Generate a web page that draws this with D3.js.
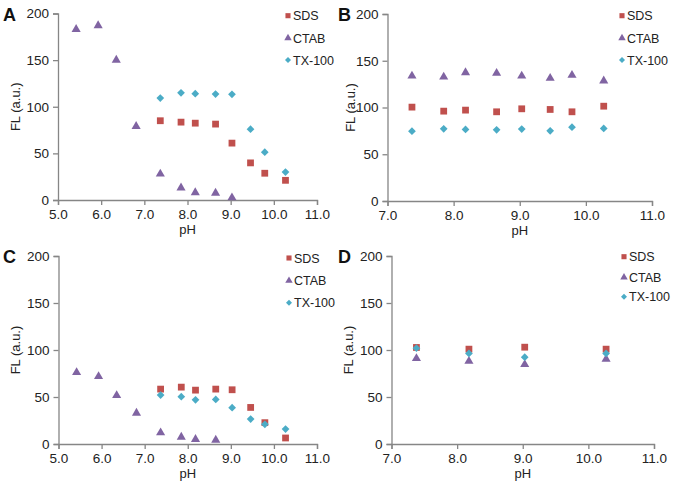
<!DOCTYPE html>
<html><head><meta charset="utf-8">
<script src="https://cdn.jsdelivr.net/npm/d3@7"></script>
<style>body{margin:0;background:#fff}svg{display:block}text{font-family:"Liberation Sans",Arial,sans-serif}</style>
</head><body>
<script>
// ---- data ----
const seriesNames = ["SDS", "CTAB", "TX-100"];
const yTicks = [0, 50, 100, 150, 200];
const xTicksWide = [5, 6, 7, 8, 9, 10, 11];
const xTicksNarrow = [7, 8, 9, 10, 11];

const pH_A_SDS = [7.37, 7.85, 8.18, 8.65, 9.03, 9.46, 9.79, 10.27];
const A_SDS = [85, 83.5, 82.4, 81.4, 61, 39.8, 28.7, 21.1];
const pH_A_CTAB = [5.42, 5.93, 6.35, 6.81, 7.37, 7.85, 8.18, 8.65, 9.03];
const A_CTAB = [183, 187, 150, 79, 28, 13, 8, 7.5, 2.5];
const pH_A_TX = [7.37, 7.85, 8.18, 8.65, 9.03, 9.46, 9.79, 10.27];
const A_TX = [109.3, 115, 114, 113.6, 113.3, 76, 51.3, 30];

const pH_B = [7.37, 7.85, 8.18, 8.65, 9.03, 9.46, 9.79, 10.27];
const B_SDS = [100.4, 96.1, 97.2, 95.4, 98.6, 97.9, 95.4, 101.4];
const B_CTAB = [133.8, 132.7, 137.4, 136.7, 133.8, 131.3, 134.5, 128.5];
const B_TX = [74.7, 77.2, 76.5, 76.2, 76.9, 75.1, 79, 77.6];

const pH_C_SDS = [7.37, 7.85, 8.18, 8.65, 9.03, 9.46, 9.79, 10.27];
const C_SDS = [58.4, 60.5, 57.3, 58.4, 57.7, 38.9, 22.7, 6.4];
const pH_C_CTAB = [5.42, 5.93, 6.35, 6.81, 7.37, 7.85, 8.18, 8.65];
const C_CTAB = [76.1, 71.9, 51.7, 32.9, 12, 7.4, 5, 4.2];
const pH_C_TX = [7.37, 7.85, 8.18, 8.65, 9.03, 9.46, 9.79, 10.27];
const C_TX = [52, 50.3, 47, 47.4, 38.6, 26.5, 20.9, 15.9];

const pH_D = [7.38, 8.18, 9.03, 10.27];
const D_SDS = [102.7, 100.9, 103, 100.9];
const D_CTAB = [91, 88.1, 84.6, 90.3];
const D_TX = [101.9, 96.3, 92.4, 96.3];

// ---- styles ----
const colors = {"SDS": "#C0504D", "CTAB": "#8064A2", "TX-100": "#4BACC6"};
const shapes = {"SDS": d3.symbolSquare, "CTAB": d3.symbolTriangle, "TX-100": d3.symbolSquare};
const rotations = {"SDS": 0, "CTAB": 0, "TX-100": 45};
const sizes = {"SDS": 46, "CTAB": 36, "TX-100": 30};
const legSizes = {"SDS": 26, "CTAB": 24, "TX-100": 18};
const axisColor = "#868686";

const panels = [
  {label: "A", l: 58, r: 317, t: 13.5, b: 200, xd: [5, 11], xt: xTicksWide, lx: 288, ly: [15.7, 38, 60], titleX: 15,
   s: [[pH_A_SDS, A_SDS], [pH_A_CTAB, A_CTAB], [pH_A_TX, A_TX]]},
  {label: "B", l: 387.5, r: 652, t: 14, b: 201, xd: [7, 11], xt: xTicksNarrow, lx: 622, ly: [15.7, 38, 60], titleX: 350,
   s: [[pH_B, B_SDS], [pH_B, B_CTAB], [pH_B, B_TX]]},
  {label: "C", l: 58.5, r: 317, t: 256, b: 444, xd: [5, 11], xt: xTicksWide, lx: 289, ly: [258, 280.7, 302.7], titleX: 15,
   s: [[pH_C_SDS, C_SDS], [pH_C_CTAB, C_CTAB], [pH_C_TX, C_TX]]},
  {label: "D", l: 391.5, r: 654, t: 256, b: 444, xd: [7, 11], xt: xTicksNarrow, lx: 624, ly: [256.7, 277.3, 296.7], titleX: 348,
   s: [[pH_D, D_SDS], [pH_D, D_CTAB], [pH_D, D_TX]]}
];

const svg = d3.select("body").append("svg").attr("width", 675).attr("height", 485);

panels.forEach(p => {
  const x = d3.scaleLinear().domain(p.xd).range([p.l, p.r]);
  const y = d3.scaleLinear().domain([0, 200]).range([p.b, p.t]);
  const g = svg.append("g");

  const ya = g.append("g").attr("transform", `translate(${p.l},0)`)
    .call(d3.axisLeft(y).tickValues(yTicks).tickSize(5).tickPadding(4).tickFormat(d3.format("d")));
  const xa = g.append("g").attr("transform", `translate(0,${p.b})`)
    .call(d3.axisBottom(x).tickValues(p.xt).tickSize(5).tickPadding(4).tickFormat(d3.format(".1f")));
  [ya, xa].forEach(a => {
    a.select(".domain").attr("stroke", axisColor).attr("stroke-width", 1.3);
    a.selectAll(".tick line").attr("stroke", axisColor).attr("stroke-width", 1.3);
    a.selectAll(".tick text").attr("fill", "#222").style("font-size", "13.5px").style("font-family", '"Liberation Sans",Arial,sans-serif');
  });

  // axis titles
  g.append("text").attr("transform", `translate(${p.titleX},${(p.t + p.b) / 2}) rotate(-90)`)
    .attr("text-anchor", "middle").attr("dy", "0.35em").style("font-size", "13px").attr("fill", "#222").text("FL (a.u.)");
  g.append("text").attr("x", (p.l + p.r) / 2).attr("y", p.b + 29).attr("dy", "0.35em")
    .attr("text-anchor", "middle").style("font-size", "13px").attr("fill", "#222").text("pH");

  // panel letter
  g.append("text").attr("x", p.label === "A" || p.label === "C" ? 3 : 338).attr("y", p.t + 7)
    .style("font-size", "18px").style("font-weight", "bold").attr("fill", "#111").text(p.label);

  // points
  seriesNames.forEach((name, i) => {
    const [xs, vs] = p.s[i];
    g.append("g").selectAll("path").data(vs).join("path")
      .attr("transform", (v, j) => `translate(${x(xs[j])},${y(v)}) rotate(${rotations[name]})`)
      .attr("d", d3.symbol().type(shapes[name]).size(sizes[name])())
      .attr("fill", colors[name]);
  });

  // legend
  seriesNames.forEach((name, i) => {
    g.append("path").attr("transform", `translate(${p.lx},${p.ly[i]}) rotate(${rotations[name]})`)
      .attr("d", d3.symbol().type(shapes[name]).size(legSizes[name])()).attr("fill", colors[name]);
    g.append("text").attr("x", p.lx + 5).attr("y", p.ly[i]).attr("dy", "0.36em")
      .style("font-size", "12.5px").attr("fill", "#222").text(name);
  });
});
</script>
</body></html>
